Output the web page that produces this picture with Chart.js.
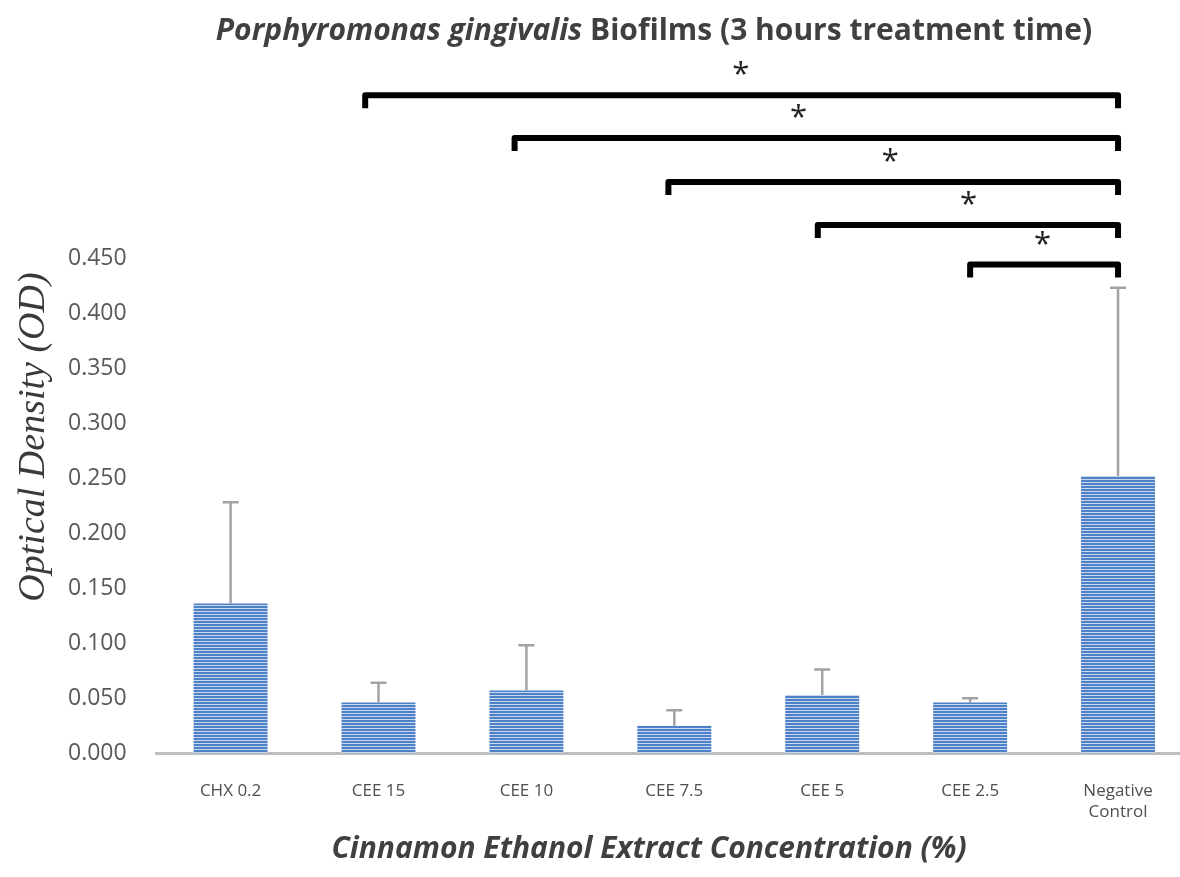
<!DOCTYPE html>
<html>
<head>
<meta charset="utf-8">
<script src="https://cdn.jsdelivr.net/npm/chart.js@4.4.1/dist/chart.umd.min.js"></script>
<style>
html, body { margin: 0; padding: 0; background: #fff; overflow: hidden; }
#wrap { width: 1195px; height: 877px; }
</style>
</head>
<body>
<div id="wrap"><canvas id="odChart" width="1195" height="877"></canvas></div>
<script>
const categories = ['CHX 0.2', 'CEE 15', 'CEE 10', 'CEE 7.5', 'CEE 5', 'CEE 2.5', ['Negative', 'Control']];
const odMeans = [0.136, 0.046, 0.057, 0.025, 0.053, 0.046, 0.252];
const odErrors = [0.092, 0.018, 0.041, 0.014, 0.023, 0.004, 0.171];
const yTicks = [0, 0.05, 0.1, 0.15, 0.2, 0.25, 0.3, 0.35, 0.4, 0.45];

// significance brackets, each one runs to Negative Control
const bracketFrom = [0.91, 1.92, 2.96, 3.97, 5.0];
const bracketTo = 6;
const bracketLevel = [0.598, 0.559, 0.519, 0.480, 0.444];
const starAt = [3.45, 3.84, 4.46, 4.99, 5.49];

const titleItalic = 'Porphyromonas gingivalis';
const titleRest = ' Biofilms (3 hours treatment time)';
const xTitle = 'Cinnamon Ethanol Extract Concentration (%)';
const yTitle = 'Optical Density (OD)';

function stripePattern() {
    const c = document.createElement('canvas');
    c.width = 4;
    c.height = 3;
    const g = c.getContext('2d');
    g.fillStyle = '#4f81c7';
    g.fillRect(0, 0, 4, 2);
    g.fillStyle = '#c6d7ef';
    g.fillRect(0, 2, 4, 1);
    return g.createPattern(c, 'repeat');
}

const errorBars = {
    id: 'errorBars',
    afterDatasetsDraw(chart) {
        const ctx = chart.ctx;
        const meta = chart.getDatasetMeta(0);
        const y = chart.scales.y;
        ctx.save();
        ctx.strokeStyle = '#a3a3a3';
        ctx.lineWidth = 2.5;
        meta.data.forEach((bar, i) => {
            const yBar = y.getPixelForValue(odMeans[i]);
            const yTop = y.getPixelForValue(odMeans[i] + odErrors[i]);
            ctx.beginPath();
            ctx.moveTo(bar.x, yBar);
            ctx.lineTo(bar.x, yTop);
            ctx.moveTo(bar.x - 8, yTop);
            ctx.lineTo(bar.x + 8, yTop);
            ctx.stroke();
        });
        ctx.restore();
    }
};

const brackets = {
    id: 'brackets',
    afterDraw(chart) {
        const ctx = chart.ctx;
        const x = chart.scales.x;
        const y = chart.scales.y;
        ctx.save();
        ctx.strokeStyle = '#000';
        ctx.lineWidth = 6;
        ctx.lineJoin = 'round';
        ctx.lineCap = 'butt';
        bracketLevel.forEach((lvl, i) => {
            const yl = y.getPixelForValue(lvl);
            const x0 = x.getPixelForValue(bracketFrom[i]);
            const x1 = x.getPixelForValue(bracketTo);
            ctx.beginPath();
            ctx.moveTo(x0, yl + 13);
            ctx.lineTo(x0, yl);
            ctx.lineTo(x1, yl);
            ctx.lineTo(x1, yl + 13);
            ctx.stroke();

            ctx.fillStyle = '#222';
            ctx.font = '31px "Open Sans"';
            ctx.textAlign = 'center';
            ctx.textBaseline = 'alphabetic';
            ctx.fillText('*', x.getPixelForValue(starAt[i]), yl - 11);
        });

        // title, mixed italic / upright
        ctx.fillStyle = '#404040';
        ctx.textBaseline = 'middle';
        ctx.textAlign = 'left';
        const f1 = 'italic bold 30px "Open Sans"';
        const f2 = 'bold 30px "Open Sans"';
        ctx.font = f1;
        const w1 = ctx.measureText(titleItalic).width;
        ctx.font = f2;
        const w2 = ctx.measureText(titleRest).width;
        const start = 654 - (w1 + w2) / 2;
        ctx.font = f1;
        ctx.fillText(titleItalic, start, 31);
        ctx.font = f2;
        ctx.fillText(titleRest, start + w1, 31);

        // x axis title, a little left of the plot centre as in the source
        ctx.textAlign = 'center';
        ctx.font = 'italic bold 30px "Open Sans"';
        ctx.fillText(xTitle, 649, 849);

        // y axis title sits above the middle of the axis
        ctx.save();
        ctx.translate(34, 437);
        ctx.rotate(-Math.PI / 2);
        ctx.textAlign = 'center';
        ctx.fillStyle = '#3a3a3a';
        ctx.font = 'italic 38px "Liberation Serif"';
        ctx.fillText(yTitle, 0, 0);
        ctx.restore();
        ctx.restore();
    }
};

const ctx = document.getElementById('odChart').getContext('2d');
new Chart(ctx, {
    type: 'bar',
    data: {
        labels: categories,
        datasets: [{
            data: odMeans,
            backgroundColor: stripePattern(),
            borderWidth: 0,
            barPercentage: 0.5,
            categoryPercentage: 1.0
        }]
    },
    options: {
        responsive: false,
        animation: false,
        layout: {
            padding: { top: 258, right: 3, left: 46, bottom: 35 }
        },
        plugins: {
            legend: { display: false },
            tooltip: { enabled: false }
        },
        scales: {
            y: {
                min: 0,
                max: 0.45,
                afterBuildTicks: (scale) => {
                    scale.ticks = yTicks.map(v => ({ value: v }));
                },
                ticks: {
                    callback: (v) => Number(v).toFixed(3),
                    color: '#595959',
                    font: { family: 'Open Sans', size: 23 },
                    padding: 22
                },
                grid: { display: false },
                border: { display: false }
            },
            x: {
                ticks: {
                    color: '#4f4f4f',
                    font: { family: 'Open Sans', size: 17 },
                    maxRotation: 0,
                    autoSkip: false,
                    padding: 20
                },
                grid: { display: false },
                border: { display: true, color: '#bfbfbf', width: 3 }
            }
        }
    },
    plugins: [errorBars, brackets]
});
</script>
</body>
</html>
